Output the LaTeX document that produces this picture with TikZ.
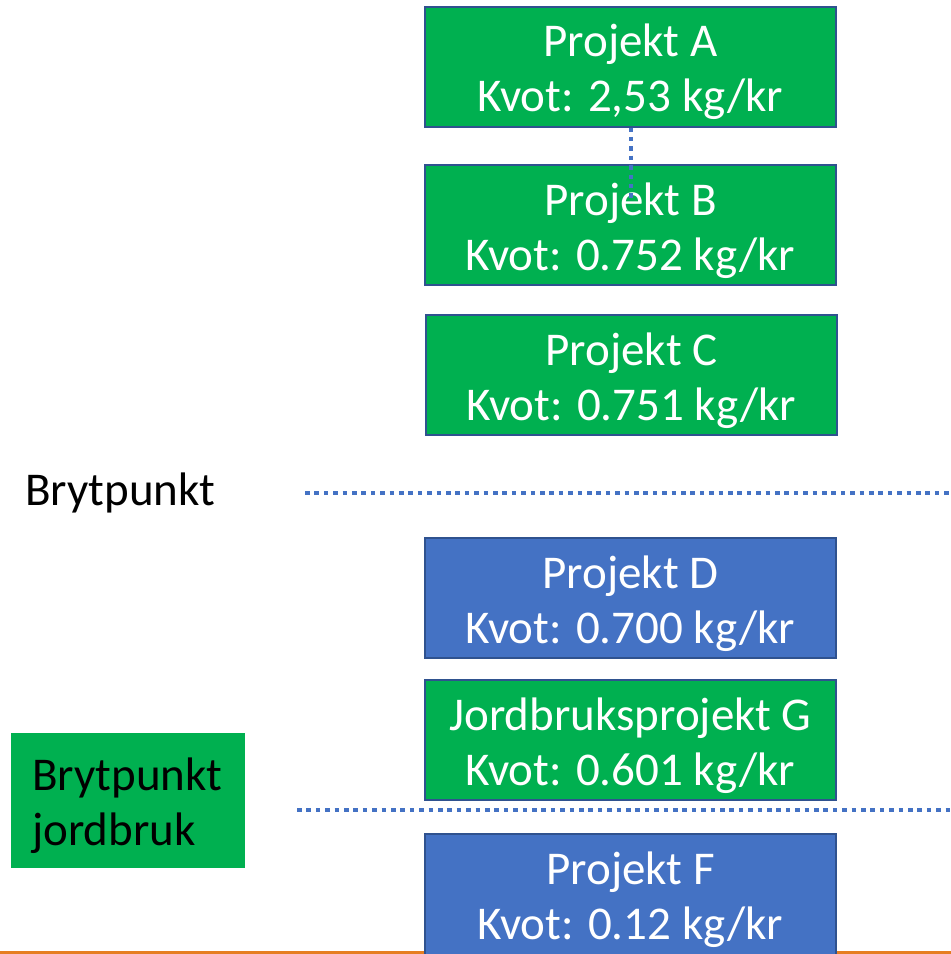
\documentclass[tikz,border=0pt]{standalone}
\usepackage{fontspec}
\setmainfont{Carlito}
\definecolor{pgreen}{HTML}{00B050}
\definecolor{pblue}{HTML}{4472C4}
\definecolor{pborder}{HTML}{2F528F}
\definecolor{porange}{HTML}{E67E22}
\newcommand{\tstrut}{\rule{0pt}{44pt}}
\begin{document}
\begin{tikzpicture}[x=1pt,y=-1pt,
  every node/.style={font=\fontsize{47}{55}\selectfont},
  proj/.style={draw=pborder, line width=2pt, minimum width=411pt, minimum height=120pt,
    inner sep=0pt, align=center, text=white},
  greenbox/.style={proj, fill=pgreen},
  bluebox/.style={proj, fill=pblue},
  dotline/.style={draw=pblue, line width=4.5pt, dash pattern=on 4.5pt off 4.9pt}]
\useasboundingbox (0,0) rectangle (951,954);
\fill[white] (0,0) rectangle (951,954);
\draw[porange, line width=3pt] (0,952.5) coordinate (o1) -- (951,952.5) coordinate (o2);
\node[greenbox] (A) at (630.5,66.5) {\tstrut Projekt A\\Kvot: 2,53 kg/kr};
\node[greenbox] (B) at (630.5,225) {\tstrut Projekt B\\Kvot: 0.752 kg/kr};
\node[greenbox] (C) at (631.5,375) {\tstrut Projekt C\\Kvot: 0.751 kg/kr};
\node[bluebox] (D) at (630.5,598) {\tstrut Projekt D\\Kvot: 0.700 kg/kr};
\node[greenbox] (G) at (630.5,740) {\tstrut Jordbruksprojekt G\\Kvot: 0.601 kg/kr};
\node[bluebox, minimum height=121pt] (F) at (630.5,894) {\tstrut Projekt F\\Kvot: 0.12 kg/kr};
\node[anchor=base west, inner sep=0pt] (bp) at (25,505) {Brytpunkt};
\node[fill=pgreen, minimum width=234pt, minimum height=135pt, inner xsep=21pt,
  text width=192pt, align=left] (bj) at (128,800.5) {\tstrut Brytpunkt\\jordbruk};
\coordinate (ab) at (631,200);
\draw[dotline] (A.south -| ab) -- (ab);
\coordinate (l1a) at (305,493);
\coordinate (l1b) at (951,493);
\draw[dotline] (l1a) -- (l1b);
\coordinate (l2a) at (297,810);
\coordinate (l2b) at (951,810);
\draw[dotline] (l2a) -- (l2b);
\end{tikzpicture}
\end{document}
